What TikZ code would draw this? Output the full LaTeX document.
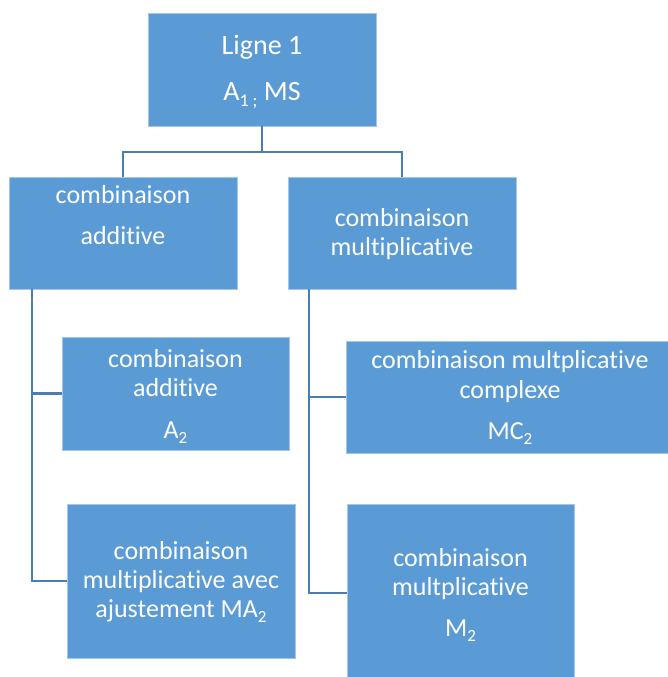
\documentclass[tikz,border=0pt]{standalone}
\usepackage{fontspec}
\setmainfont{Carlito}[Ligatures={NoCommon}]
\definecolor{boxfill}{HTML}{5B9BD5}
\definecolor{boxedge}{HTML}{A4C6E8}
\definecolor{linkc}{HTML}{4A7EB0}
\newcommand\sbs[1]{\raisebox{-0.22em}{\fontsize{17}{17}\selectfont #1}}
\newcommand\sbsbig[1]{\raisebox{-0.22em}{\fontsize{18}{18}\selectfont #1}}
\begin{document}
\begin{tikzpicture}[x=1pt,y=-1pt,
  box/.style={draw=boxedge, line width=0.8pt, fill=boxfill, inner sep=0pt, outer sep=0pt},
  txt/.style={anchor=base, text=white, inner sep=0pt, font=\fontsize{26}{30}\selectfont},
  bigtxt/.style={txt, font=\fontsize{28}{32}\selectfont},
  link/.style={draw=linkc, line width=2.9pt}]
\useasboundingbox (0,0) rectangle (668,677);

% boxes
\node[box, minimum width=228pt, minimum height=113pt] (top) at (262,69.5) {};
\node[box, minimum width=228pt, minimum height=112pt] (l1) at (123,233) {};
\node[box, minimum width=228pt, minimum height=112pt] (r1) at (402,233) {};
\node[box, minimum width=227pt, minimum height=113pt] (a2) at (175.5,393.5) {};
\node[box, minimum width=228pt, minimum height=154pt] (ma2) at (181,581) {};
\node[box, minimum width=328pt, minimum height=112pt] (mc2) at (510,397) {};
\node[box, minimum width=227pt, minimum height=178pt] (m2) at (460.5,593) {};

% texts
\node[bigtxt] (top1) at (262,55) {Ligne 1};
\node[bigtxt] (top2) at (262,100) {A\sbsbig{1 ;} MS};

\node[txt] (l1a) at (123,203) {combinaison};
\node[txt] (l1b) at (123,244) {additive};

\node[txt] (r1a) at (402,226) {combinaison};
\node[txt] (r1b) at (402,255) {multiplicative};

\node[txt] (a2a) at (175.5,367) {combinaison};
\node[txt] (a2b) at (175.5,396) {additive};
\node[txt] (a2c) at (175.5,438) {A\sbs{2}};

\node[txt] (mc2a) at (510,368) {combinaison multplicative};
\node[txt] (mc2b) at (510,398) {complexe};
\node[txt] (mc2c) at (510,439) {MC\sbs{2}};

\node[txt] (ma2a) at (181,559) {combinaison};
\node[txt] (ma2b) at (181,588) {multiplicative avec};
\node[txt] (ma2c) at (181,617) {ajustement MA\sbs{2}};

\node[txt] (m2a) at (460.5,566) {combinaison};
\node[txt] (m2b) at (460.5,595) {multplicative};
\node[txt] (m2c) at (460.5,636) {M\sbs{2}};

% connectors
\coordinate (hub) at (262,152);
\coordinate (lstem) at (32,289);
\coordinate (rstem) at (309,289);
\draw[link] (top.south) -- (hub);
\draw[link] (hub) -| (l1.north);
\draw[link] (hub) -| (r1.north);
\draw[link] (lstem) |- (a2.west);
\draw[link] (lstem) |- (ma2.west);
\draw[link] (rstem) |- (mc2.west);
\draw[link] (rstem) |- (m2.west);
\end{tikzpicture}
\end{document}
